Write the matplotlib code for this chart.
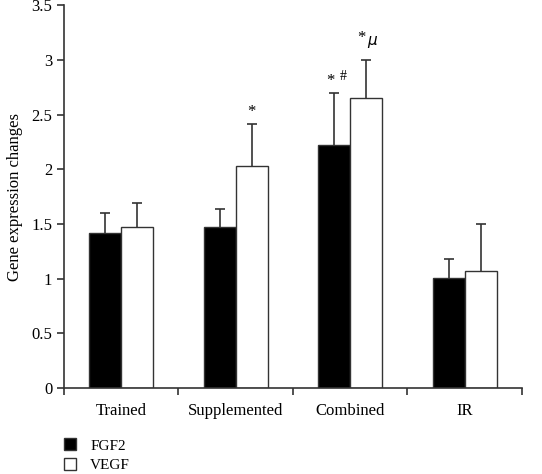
import matplotlib.pyplot as plt
import numpy as np

plt.rcParams['font.family'] = ['Liberation Serif', 'DejaVu Serif']

groups = ["Trained", "Supplemented", "Combined", "IR"]
fgf2 = [1.42, 1.47, 2.22, 1.01]
fgf2_err = [0.18, 0.17, 0.48, 0.17]
vegf = [1.47, 2.03, 2.65, 1.07]
vegf_err = [0.22, 0.38, 0.35, 0.43]

fig = plt.figure(figsize=(5.42, 4.74), dpi=100)
ax = fig.add_axes([0.118, 0.181, 0.845, 0.808])

x = np.arange(len(groups))
w = 0.28
ax.bar(x - w / 2, fgf2, w, color='black', edgecolor='#333333', linewidth=1,
       label='FGF2', zorder=2)
ax.bar(x + w / 2, vegf, w, color='white', edgecolor='#333333', linewidth=1,
       label='VEGF', zorder=2)

# upper error bars only
cap = 0.045
for xs, vals, errs in [(x - w / 2, fgf2, fgf2_err), (x + w / 2, vegf, vegf_err)]:
    tops = np.array(vals) + np.array(errs)
    ax.vlines(xs, vals, tops, color='#333333', linewidth=1.2, zorder=1)
    ax.hlines(tops, xs - cap, xs + cap, color='#333333', linewidth=1.2, zorder=1)

# significance marks
ax.text(1 + w / 2, vegf[1] + vegf_err[1] + 0.08, '*', ha='center', fontsize=12)
ax.text(2 - w / 2 - 0.03, fgf2[2] + fgf2_err[2] + 0.07, '*', ha='center', fontsize=12)
ax.text(2 - w / 2 + 0.08, fgf2[2] + fgf2_err[2] + 0.12, '#', ha='center', fontsize=10)
ax.text(2 + w / 2 - 0.04, vegf[2] + vegf_err[2] + 0.16, '*', ha='center', fontsize=12)
ax.text(2 + w / 2 + 0.06, vegf[2] + vegf_err[2] + 0.14, r'$\mu$', ha='center', fontsize=11)

ax.set_xlim(-0.5, 3.5)
ax.set_ylim(0, 3.5)
ax.set_yticks(np.arange(0, 3.51, 0.5))
ax.set_yticklabels(['0', '0.5', '1', '1.5', '2', '2.5', '3', '3.5'])
ax.set_xticks(np.arange(-0.5, 3.6, 1))
ax.set_xticklabels([])
ax.set_xticks(x, minor=True)
ax.set_xticklabels(groups, minor=True)
ax.tick_params(axis='x', which='minor', length=0, pad=11, labelsize=12)
ax.tick_params(axis='both', which='major', direction='out', length=5, width=1.2,
               color='#333333', labelsize=12)
for s in ['top', 'right']:
    ax.spines[s].set_visible(False)
for s in ['left', 'bottom']:
    ax.spines[s].set_linewidth(1.2)
    ax.spines[s].set_color('#333333')

ax.set_ylabel('Gene expression changes', fontsize=12, labelpad=6)

fig.legend(loc='lower left', bbox_to_anchor=(0.093, -0.025), frameon=False,
           fontsize=11, handlelength=0.8, handleheight=0.8, labelspacing=0.35,
           handletextpad=0.9)

fig.savefig('out.png', dpi=100)
